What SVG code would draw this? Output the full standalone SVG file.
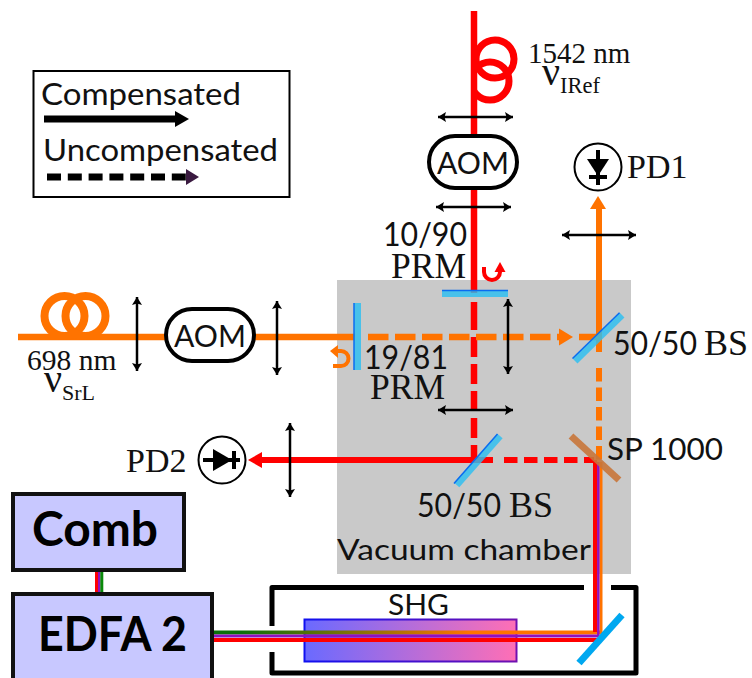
<svg xmlns="http://www.w3.org/2000/svg" width="752" height="678" viewBox="0 0 752 678">
<style>
.s{font-family:"Liberation Serif","Times New Roman",serif;fill:#111}
.c{font-family:Lato,"Liberation Sans",sans-serif;fill:#111}
.b{font-family:Lato,"Liberation Sans",sans-serif;font-weight:700;fill:#000}
.lens{stroke:#000;stroke-width:2.500;fill:none;marker-start:url(#hs);marker-end:url(#he)}
.box{fill:#c8c8ff;stroke:#111;stroke-width:4}
.aom{fill:#fff;stroke:#000;stroke-width:4}
.pd{fill:#fff;stroke:#000;stroke-width:2}
.bs{stroke:#2cc0f2;stroke-width:7;opacity:.82;fill:none}
.edge{stroke:#0a6cf0;stroke-width:1.500;fill:none}
.o{stroke:#ff7300;fill:none}
.r{stroke:#f00;fill:none}
</style>
<defs>
<marker id="he" markerUnits="userSpaceOnUse" markerWidth="10" markerHeight="12" refX="8" refY="5" orient="auto"><path d="M0,0 L8,5 L0,10 L1.500,5Z" fill="#000"/></marker>
<marker id="hs" markerUnits="userSpaceOnUse" markerWidth="10" markerHeight="12" refX="0" refY="5" orient="auto"><path d="M8,0 L0,5 L8,10 L6.500,5Z" fill="#000"/></marker>
<linearGradient id="crystal" x1="0" x2="1" y1="0" y2="0"><stop offset="0" stop-color="#6a6aff"/><stop offset="1" stop-color="#ff6fb5"/></linearGradient>
<linearGradient id="crystalEdge" x1="0" x2="1" y1="0" y2="0"><stop offset="0" stop-color="#1010f0"/><stop offset="1" stop-color="#7010b0"/></linearGradient>
<linearGradient id="gr" gradientUnits="userSpaceOnUse" x1="240" x2="470" y1="0" y2="0"><stop offset="0" stop-color="#0a700a"/><stop offset="1" stop-color="#ff7300"/></linearGradient>
<clipPath id="coilClip"><rect x="474" y="20" width="60" height="100"/></clipPath>
</defs>
<rect id="vacuum-bg" x="337" y="280" width="294" height="294" fill="#c9c9c9"/>

<g id="shg-crystal"><rect x="304.500" y="619.500" width="212" height="42" fill="url(#crystal)" stroke="url(#crystalEdge)" stroke-width="2"/></g>

<g id="connectors">
<path class="r" stroke-width="6.500" d="M474,11V293"/>
<path class="r" stroke-width="6.500" d="M474,302V330"/>
<path class="r" stroke-width="6.500" stroke-dasharray="20,7" d="M474,337V460"/>
<path class="r" stroke-width="6" d="M260,460H493"/>
<path d="M248,460L262,452V468Z" fill="#f00"/>
<path class="r" stroke-width="6" stroke-dasharray="13.500,6.500" d="M504,460H594"/>
<path class="o" stroke-width="6.500" d="M18,337H355"/>
<path class="o" stroke-width="6.500" stroke-dasharray="20.500,6.500" d="M368,337H561"/>
<path d="M559,328.500L573,337L559,345.500Z" fill="#ff7300"/>
<path class="o" stroke-width="6.500" d="M579,337H597"/>
<path class="o" stroke-width="6" d="M599,206V352"/>
<path d="M598,196L590,209H606Z" fill="#ff7300"/>
<path class="o" stroke-width="6" stroke-dasharray="13.500,6" d="M599,368V463"/>
<path stroke="url(#gr)" stroke-width="4" fill="none" d="M213,632.500H601"/>
<path stroke="#ff7300" stroke-width="3" fill="none" d="M470,632.500H601"/>
<path stroke="#9010c0" stroke-width="3" fill="none" d="M213,636H599"/>
<path stroke="#f00" stroke-width="4" fill="none" d="M213,640H599"/>
<path stroke="#f00" stroke-width="4" fill="none" d="M595,460V632"/>
<path stroke="#ff7300" stroke-width="3" fill="none" d="M601,462V634"/>
<path stroke="#9010c0" stroke-width="2.500" fill="none" d="M598.300,462V636"/>
<path stroke="#f00" stroke-width="3" fill="none" d="M96.500,570V593"/>
<path stroke="#9010c0" stroke-width="2.500" fill="none" d="M99.200,570V593"/>
<path stroke="#0a8a0a" stroke-width="3" fill="none" d="M101.800,570V593"/>
<path class="r" stroke-width="4" d="M484,267v5a8,8 0 0 0 16,0v-3"/>
<path d="M500,262L494.500,272H505.500Z" fill="#f00"/>
<path class="o" stroke-width="4" d="M333,366h8a7.500,7.500 0 0 0 0,-15h-5"/>
<path d="M330,351L338,345V358Z" fill="#ff7300"/>
<path class="lens" d="M438,117H513"/>
<path class="lens" d="M436,207H511"/>
<path class="lens" d="M562,235H636"/>
<path class="lens" d="M508,299V374"/>
<path class="lens" d="M438,410H513"/>
<path class="lens" d="M137,297V371"/>
<path class="lens" d="M277,301V375"/>
<path class="lens" d="M290,423V497"/>
</g>

<g id="coil-698" fill="none" stroke="#ff7300" stroke-width="8"><circle cx="64.500" cy="316" r="20"/><circle cx="85.500" cy="316" r="20"/></g>
<g id="coil-1542" fill="none" stroke="#f00" stroke-width="7" clip-path="url(#coilClip)"><circle cx="495" cy="59" r="19"/><circle cx="490" cy="81" r="19"/></g>

<g id="mirror-prm-top"><path class="bs" d="M442,293.500H508"/><path class="edge" d="M442,290.500H508"/></g>
<g id="mirror-prm-left"><path class="bs" d="M357.500,303V370"/><path class="edge" d="M354,303V370"/></g>
<g id="bs-upper"><path class="bs" d="M575,361L622,315"/><path class="edge" d="M572.500,358.500L619.500,312.700"/></g>
<g id="bs-lower"><path class="bs" d="M456.700,485L500,436"/><path class="edge" d="M454,483.500L497.500,434"/></g>
<g id="sp1000"><path stroke="#c8763a" stroke-width="7" opacity=".9" fill="none" d="M571,436L619,480"/></g>
<g id="mirror-shg"><path stroke="#00a8f0" stroke-width="7" fill="none" d="M579,663L622,615"/></g>

<g id="shg-box"><path fill="none" stroke="#000" stroke-width="5" stroke-linejoin="round" d="M272,626V587.500H584M611,587.500H636V673H272V652"/>
<text class="c" x="388" y="615" font-size="28" textLength="61" lengthAdjust="spacingAndGlyphs">SHG</text></g>

<g id="comb"><rect class="box" x="13" y="494" width="171" height="76"/><text class="b" x="32" y="546" font-size="47" textLength="126" lengthAdjust="spacingAndGlyphs">Comb</text></g>
<g id="edfa2"><rect class="box" x="13" y="594" width="199" height="90"/><text class="b" x="38" y="651" font-size="47" textLength="149" lengthAdjust="spacingAndGlyphs">EDFA 2</text></g>

<g id="aom-top"><rect class="aom" x="429" y="136" width="88" height="52" rx="26"/><text class="c" x="437" y="174" font-size="30" textLength="72" lengthAdjust="spacingAndGlyphs">AOM</text></g>
<g id="aom-left"><rect class="aom" x="166" y="309" width="88" height="52" rx="26"/><text class="c" x="174" y="347" font-size="30" textLength="72" lengthAdjust="spacingAndGlyphs">AOM</text></g>

<g id="pd1"><circle class="pd" cx="598" cy="167" r="23.500"/><path d="M598,150V185" stroke="#000" stroke-width="4"/><path d="M587,159H609L598,176Z" fill="#000"/><path d="M589,177H607" stroke="#000" stroke-width="4"/>
<text class="s" x="627" y="178" font-size="34">PD1</text></g>
<g id="pd2"><circle class="pd" cx="222" cy="460" r="23.500"/><path d="M203,460H240" stroke="#000" stroke-width="4"/><path d="M213,449V471L232,460Z" fill="#000"/><path d="M234,451V469" stroke="#000" stroke-width="4"/>
<text class="s" x="126" y="472" font-size="34">PD2</text></g>

<g id="labels">
<text class="s" x="528" y="63" font-size="29">1542 nm</text>
<text class="s" x="542" y="85" font-size="40">ν</text>
<text class="s" x="560" y="93" font-size="22.500">IRef</text>
<text class="s" x="27" y="370" font-size="29.500">698 nm</text>
<text class="s" x="44" y="392" font-size="40">ν</text>
<text class="s" x="62" y="400" font-size="22">SrL</text>
<text class="c" x="383" y="246" font-size="32" textLength="84" lengthAdjust="spacingAndGlyphs">10/90</text>
<text class="s" x="391" y="278" font-size="35.500">PRM</text>
<text class="c" x="364" y="369" font-size="32" textLength="84" lengthAdjust="spacingAndGlyphs">19/81</text>
<text class="s" x="370" y="399" font-size="35.500">PRM</text>
<text class="c" x="613" y="355" font-size="32" textLength="84" lengthAdjust="spacingAndGlyphs">50/50</text>
<text class="s" x="704" y="355" font-size="36">BS</text>
<text class="c" x="417" y="517" font-size="32" textLength="84" lengthAdjust="spacingAndGlyphs">50/50</text>
<text class="s" x="509" y="517" font-size="36">BS</text>
<text class="c" x="607" y="460" font-size="31" textLength="116" lengthAdjust="spacingAndGlyphs">SP 1000</text>
<text class="c" x="337" y="560" font-size="29" textLength="254" lengthAdjust="spacingAndGlyphs">Vacuum chamber</text>
</g>

<g id="legend">
<rect x="33.500" y="71" width="256" height="126" fill="#fff" stroke="#000" stroke-width="2"/>
<text class="c" x="41" y="105" font-size="31" textLength="200" lengthAdjust="spacingAndGlyphs">Compensated</text>
<path d="M44,119H176" stroke="#000" stroke-width="7"/>
<path d="M175,111L189,119L175,127Z" fill="#000"/>
<text class="c" x="43" y="161" font-size="31" textLength="235" lengthAdjust="spacingAndGlyphs">Uncompensated</text>
<path d="M47,177H186" stroke="#000" stroke-width="7" stroke-dasharray="14,6.800"/>
<path d="M186,169L199,177L186,185Z" fill="#3a1a40"/>
</g>
</svg>
